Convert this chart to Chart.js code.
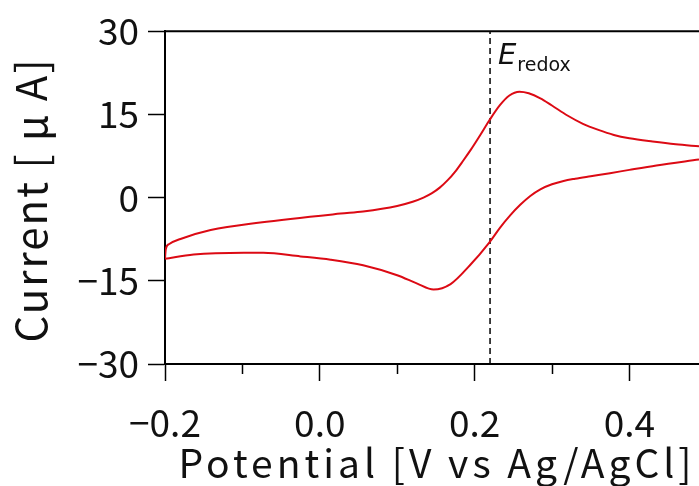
<!DOCTYPE html>
<html><head><meta charset="utf-8">
<script src="https://cdn.jsdelivr.net/npm/chart.js@4"></script>
<style>html,body{margin:0;padding:0;background:#fff;overflow:hidden}#wrap{width:699px;height:486px;position:relative}</style>
</head><body><div id="wrap"><canvas id="c" width="699" height="486"></canvas></div>
<script>
// Forward (anodic) scan: potential [V] and current [uA]
const forwardPotential = [-0.200, -0.199, -0.195, -0.180, -0.141, -0.077, 0.027, 0.056, 0.100, 0.120, 0.134, 0.145, 0.155, 0.165, 0.175, 0.185, 0.195, 0.207, 0.219, 0.233, 0.245, 0.258, 0.270, 0.285, 0.300, 0.320, 0.340, 0.360, 0.380, 0.400, 0.430, 0.460, 0.490];
const forwardCurrent   = [-11.0, -9.3, -8.4, -7.46, -5.85, -4.49, -2.88, -2.50, -1.50, -0.75, 0.0, 0.8, 1.8, 3.1, 4.7, 6.6, 8.6, 11.2, 13.9, 16.7, 18.4, 19.07, 18.8, 17.9, 16.6, 14.8, 13.3, 12.2, 11.3, 10.7, 10.1, 9.6, 9.25];
// Reverse (cathodic) scan, listed from low to high potential
const reversePotential = [-0.200, -0.163, -0.098, -0.073, -0.025, 0.014, 0.056, 0.100, 0.126, 0.147, 0.169, 0.194, 0.219, 0.233, 0.246, 0.259, 0.272, 0.285, 0.300, 0.315, 0.330, 0.350, 0.375, 0.400, 0.435, 0.490];
const reverseCurrent   = [-11.04, -10.27, -9.96, -9.96, -10.6, -11.2, -12.2, -14.0, -15.51, -16.58, -15.6, -12.2, -8.1, -5.4, -3.2, -1.3, 0.3, 1.5, 2.4, 3.0, 3.4, 3.85, 4.4, 5.0, 5.8, 6.85];
const xTicks = [-0.2, 0.0, 0.2, 0.4];
const xMinorTicks = [-0.1, 0.1, 0.3];
const yTicks = [-30, -15, 0, 15, 30];
const redoxPotential = 0.22;
const xLabel = 'Potential [V vs Ag/AgCl]';
const yLabel = 'Current [ \u03BC A]';

const FONT = '"Noto Sans CJK JP", "Noto Sans", sans-serif';
const RED = 'rgb(220,10,20)';
const fmt = v => (v < 0 ? '\u2212' : '') + Math.abs(v);

const toPts = (xs, ys) => xs.map((x, i) => ({x, y: ys[i]}));
const hasLS = (ctx) => 'letterSpacing' in ctx;

const extras = {
  id: 'extras',
  afterDraw(chart) {
    const {ctx, chartArea: a, scales: {x, y}} = chart;
    ctx.save();
    ctx.strokeStyle = '#000';
    ctx.lineWidth = 2;
    ctx.beginPath();
    ctx.moveTo(a.left - 1, a.top);
    ctx.lineTo(a.right + 2, a.top);
    ctx.stroke();
    ctx.lineWidth = 1.5;
    xMinorTicks.forEach(v => {
      const px = Math.round(x.getPixelForValue(v)) + 0.5;
      ctx.beginPath();
      ctx.moveTo(px, a.bottom);
      ctx.lineTo(px, a.bottom + 10);
      ctx.stroke();
    });
    // E_redox label
    const ex = x.getPixelForValue(redoxPotential) + 8;
    const ey = a.top + 33;
    ctx.fillStyle = '#111';
    ctx.textBaseline = 'alphabetic';
    ctx.font = 'italic 29px "DejaVu Sans", sans-serif';
    ctx.fillText('E', ex, ey);
    const w = ctx.measureText('E').width;
    ctx.font = '19px "DejaVu Sans", sans-serif';
    ctx.fillText('redox', ex + w + 1, ey + 7);
    // axis titles
    ctx.font = '39px ' + FONT;
    ctx.textAlign = 'center';
    if (hasLS(ctx)) ctx.letterSpacing = '4px';
    ctx.fillText(xLabel, 437, 478);
    ctx.save();
    ctx.translate(47, 200);
    ctx.rotate(-Math.PI / 2);
    ctx.font = '42px ' + FONT;
    if (hasLS(ctx)) ctx.letterSpacing = '2px';
    ctx.fillText(yLabel, 0, 0);
    ctx.restore();
    if (hasLS(ctx)) ctx.letterSpacing = '0px';
    ctx.restore();
  },
  beforeDraw(chart) {
    if (hasLS(chart.ctx)) chart.ctx.letterSpacing = '0px';
  }
};

new Chart(document.getElementById('c'), {
  type: 'scatter',
  data: {
    datasets: [
      {data: toPts(forwardPotential, forwardCurrent), showLine: true, borderColor: RED, borderWidth: 2, pointRadius: 0, cubicInterpolationMode: 'monotone'},
      {data: toPts(reversePotential, reverseCurrent), showLine: true, borderColor: RED, borderWidth: 2, pointRadius: 0, cubicInterpolationMode: 'monotone'},
      {data: [{x: redoxPotential, y: -30}, {x: redoxPotential, y: 30}], showLine: true, borderColor: '#000', borderWidth: 1.5, borderDash: [6, 4], pointRadius: 0}
    ]
  },
  options: {
    responsive: false,
    animation: false,
    layout: {padding: {top: 29, right: 0, left: 0, bottom: 0}},
    plugins: {legend: {display: false}, tooltip: {enabled: false}},
    scales: {
      x: {
        type: 'linear', min: -0.2, max: 0.49,
        afterBuildTicks: s => { s.ticks = xTicks.map(v => ({value: v})); },
        afterFit: s => { s.height = 122; },
        ticks: {callback: v => (v < 0 ? '\u2212' : '') + Math.abs(v).toFixed(1), color: '#111', font: {family: FONT, size: 37}, padding: 20, maxRotation: 0, autoSkip: false},
        grid: {drawOnChartArea: false, tickLength: 17, tickColor: '#000', tickWidth: 1.5},
        border: {color: '#000', width: 2},
        title: {display: false}
      },
      y: {
        type: 'linear', min: -30, max: 30,
        afterBuildTicks: s => { s.ticks = yTicks.map(v => ({value: v})); },
        afterFit: s => { s.width = 165; },
        ticks: {callback: v => fmt(v), color: '#111', font: {family: FONT, size: 37}, padding: 9},
        grid: {drawOnChartArea: false, tickLength: 17, tickColor: '#000', tickWidth: 1.5},
        border: {color: '#000', width: 2},
        title: {display: false}
      }
    }
  },
  plugins: [extras]
});
</script>
</body></html>
